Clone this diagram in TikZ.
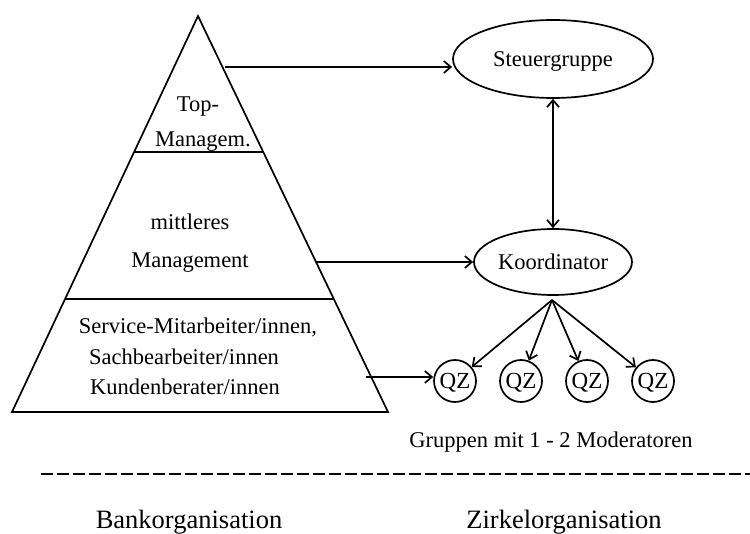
\documentclass[tikz,border=0pt]{standalone}
\usepackage{fontspec}
\setmainfont{Liberation Serif}
\usetikzlibrary{shapes.geometric,arrows.meta}
\begin{document}
\begin{tikzpicture}[x=1pt,y=-1pt,
  line width=1.7pt,
  arr/.style={-{Straight Barb[length=7pt,width=12pt]}},
  darr/.style={{Straight Barb[length=7pt,width=12pt]}-{Straight Barb[length=7pt,width=12pt]}},
  lbl/.style={font=\fontsize{22.5}{27}\selectfont, inner sep=0pt, anchor=base},
  big/.style={font=\fontsize{26.5}{32}\selectfont, inner sep=0pt, anchor=base},
  ell/.style={draw, ellipse, inner sep=0pt, text depth=0pt, font=\fontsize{22.5}{27}\selectfont},
  qz/.style={draw, circle, minimum size=42pt, inner sep=0pt, text depth=0pt, font=\fontsize{23}{27}\selectfont}]
\useasboundingbox (0,0) rectangle (750,534);
% pyramid
\coordinate (apex) at (198,16);
\coordinate (bl) at (12,412);
\coordinate (br) at (388,412);
\draw[line join=miter] (apex) -- (br) -- (bl) -- cycle;
\coordinate (l1a) at (134,152);
\coordinate (l1b) at (263,152);
\coordinate (l2a) at (65,299);
\coordinate (l2b) at (333,299);
\draw (l1a) -- (l1b);
\draw (l2a) -- (l2b);
% pyramid texts
\node[lbl] (t1) at (198,112) {Top-};
\node[lbl] (t2) at (203,147) {Managem.};
\node[lbl] (t3) at (190,230) {mittleres};
\node[lbl] (t4) at (190,268) {Management};
\node[lbl] (t5) at (198,334) {Service-Mitarbeiter/innen,};
\node[lbl] (t6) at (184,365) {Sachbearbeiter/innen};
\node[lbl] (t7) at (185,395) {Kundenberater/innen};
% right side
\node[ell, minimum width=200pt, minimum height=78pt] (steuer) at (553,59) {Steuergruppe};
\node[ell, minimum width=158pt, minimum height=66pt] (koord) at (553,262) {Koordinator};
\node[qz] (qz1) at (455,381) {QZ};
\node[qz] (qz2) at (521,381) {QZ};
\node[qz] (qz3) at (587,381) {QZ};
\node[qz] (qz4) at (653,381) {QZ};
% connectors
\coordinate (s1) at (225,67);
\coordinate (s2) at (316,262);
\coordinate (s3) at (366,377);
\draw[arr] (s1) -- (s1 -| steuer.west);
\draw[arr] (s2) -- (koord.west);
\draw[arr] (s3) -- (s3 -| qz1.west);
\draw[darr] (steuer.south) -- (koord.north);
\coordinate (fan) at (552,300);
\draw[arr] (fan) -- (qz1);
\draw[arr] (fan) -- (qz2);
\draw[arr] (fan) -- (qz3);
\draw[arr] (fan) -- (qz4);
% bottom
\node[lbl] (grp) at (551,448) {Gruppen mit 1 - 2 Moderatoren};
\coordinate (dl) at (41,474);
\coordinate (dr) at (750,474);
\draw[dash pattern=on 12pt off 4pt, line width=1.8pt] (dl) -- (dr);
\node[big] (bank) at (189,528) {Bankorganisation};
\node[big] (zirk) at (564,528) {Zirkelorganisation};
\end{tikzpicture}
\end{document}
